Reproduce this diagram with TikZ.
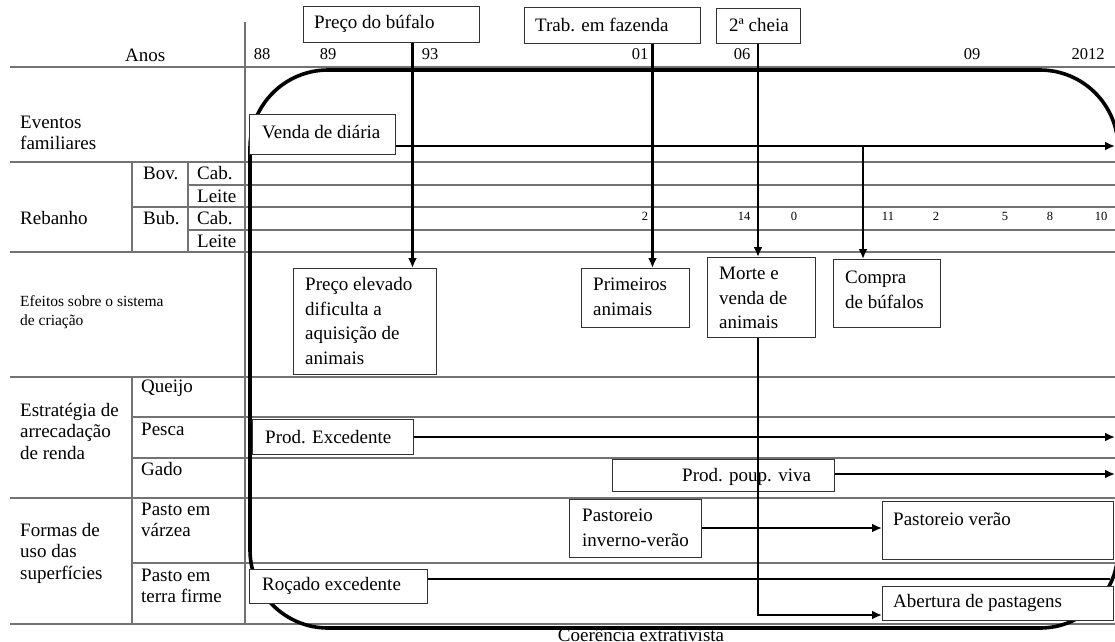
\documentclass[tikz,border=0pt]{standalone}
\usepackage{fontspec}
\setmainfont{Liberation Serif}
\usetikzlibrary{arrows.meta,calc}
\newcommand\fbig{\fontsize{19}{24.5}\selectfont}
\newcommand\fmid{\fontsize{19}{21.5}\selectfont}
\newcommand\fsml{\fontsize{15.5}{19.5}\selectfont}
\newcommand\fyr{\fontsize{16.5}{20}\selectfont}
\newcommand\fnum{\fontsize{12.5}{15}\selectfont}
\begin{document}
\begin{tikzpicture}[x=1pt,y=-1pt,
  grid/.style={draw=black!55,line width=1.1pt},
  frame/.style={line width=3.6pt,rounded corners=78pt},
  flow/.style={line width=2.6pt,-{Latex[length=10pt,width=9pt]}},
  plain/.style={line width=2.6pt},
  box/.style={draw=black!80,line width=1.1pt,fill=white,inner sep=0pt,anchor=north west},
  txt/.style={inner sep=0pt,font=\fbig,align=left,anchor=west},
  lab/.style={inner sep=0pt,font=\fmid,align=left,anchor=west},
  yr/.style={inner sep=0pt,font=\fyr},
  num/.style={inner sep=0pt,font=\fnum}]
\useasboundingbox (0,0) rectangle (1115,641);

% ---- table grid
\draw[grid] (10,67) -- (1115,67);
\draw[grid] (10,162) -- (1115,162);
\draw[grid] (188,185) -- (1115,185);
\draw[grid] (132,207) -- (1115,207);
\draw[grid] (188,230) -- (1115,230);
\draw[grid] (10,252) -- (1115,252);
\draw[grid] (10,377) -- (1115,377);
\draw[grid] (132,417) -- (1115,417);
\draw[grid] (132,458) -- (1115,458);
\draw[grid] (10,498) -- (1115,498);
\draw[grid] (132,563) -- (1115,563);
\draw[grid] (10,624) -- (1115,624);
\draw[grid] (245,22) -- (245,624);
\draw[grid] (132,162) -- (132,252);
\draw[grid] (188,162) -- (188,252);
\draw[grid] (132,377) -- (132,624);

% ---- row and column headings
\node[lab] (anos) at (125,55) {Anos};
\node[lab] (lEv) at (20,133) {Eventos\\familiares};
\node[lab] (lReb) at (20,218) {Rebanho};
\node[lab,font=\fsml] (lEf) at (20,312) {Efeitos sobre o sistema\\de criação};
\node[lab] (lEst) at (20,431) {Estratégia de\\arrecadação\\de renda};
\node[lab] (lFor) at (20,553) {Formas de\\uso das\\superfícies};
\node[lab] (bov) at (143,173) {Bov.};
\node[lab] (bub) at (143,218) {Bub.};
\node[lab] (cab1) at (197,173) {Cab.};
\node[lab] (lei1) at (197,196) {Leite};
\node[lab] (cab2) at (197,218) {Cab.};
\node[lab] (lei2) at (197,241) {Leite};
\node[lab] (queijo) at (141,388) {Queijo};
\node[lab] (pesca) at (141,429) {Pesca};
\node[lab] (gado) at (141,469) {Gado};
\node[lab] (pvz) at (141,520) {Pasto em\\várzea};
\node[lab] (ptf) at (141,586) {Pasto em\\terra firme};

% ---- years
\node[yr] (y88) at (262,54) {88};
\node[yr] (y89) at (328,54) {89};
\node[yr] (y93) at (430,54) {93};
\node[yr] (y01) at (640,54) {01};
\node[yr] (y06) at (742,54) {06};
\node[yr] (y09) at (972,54) {09};
\node[yr] (y12) at (1088,54) {2012};

% ---- buffalo head counts
\node[num] (n1) at (645,216) {2};
\node[num] (n2) at (744,216) {14};
\node[num] (n3) at (794,216) {0};
\node[num] (n4) at (888,216) {11};
\node[num] (n5) at (936,216) {2};
\node[num] (n6) at (1005,216) {5};
\node[num] (n7) at (1050,216) {8};
\node[num] (n8) at (1101,216) {10};

% ---- extractivist coherence frame
\draw[frame] (250,70) rectangle (1118,628);
\node[anchor=base,inner sep=0pt,font=\fbig] (coer) at (641,641) {Coerência extrativista};

% ---- event boxes
\node[box,minimum width=176pt,minimum height=36pt] (preco) at (303,6) {};
\node[box,minimum width=176pt,minimum height=36pt] (trab) at (524,7) {};
\node[box,minimum width=84pt,minimum height=35pt] (cheia) at (716,8) {};
\coordinate (xP) at (412.5,0);
\coordinate (xT) at (652.5,0);
\coordinate (xC) at (758,0);
\coordinate (xB) at (863,0);
\coordinate (vEnd) at (1115,146);
\coordinate (rEnd) at (1110,579);
\coordinate (yA) at (0,615);

% connectors under the boxes
\draw[flow] (preco.south -| xP) -- (xP |- 268,268);
\draw[flow] (trab.south -| xT) -- (xT |- 268,268);
\draw[flow] (cheia.south -| xC) -- (xC |- 257,257);
\draw[flow] (249,146) -- (vEnd);
\draw[flow] (xB |- vEnd) -- (xB |- 259,259);
\draw[flow] (413,437) -- (1115,437);
\draw[flow] (834,474) -- (1115,474);
\draw[flow] (701,528) -- (882,528);
\draw[plain] (427,579) -- (rEnd);

\node[box,minimum width=146pt,minimum height=40pt] (venda) at (249,114) {};
\node[box,minimum width=143pt,minimum height=106pt] (precoel) at (293,268) {};
\node[box,minimum width=108pt,minimum height=59pt] (prim) at (581,268) {};
\node[box,minimum width=108pt,minimum height=80pt] (morte) at (707,257) {};
\node[box,minimum width=107pt,minimum height=68pt] (compra) at (833,259) {};
\node[box,minimum width=161pt,minimum height=35pt] (prodexc) at (252,419) {};
\node[box,minimum width=222pt,minimum height=32pt] (poup) at (612,459) {};
\node[box,minimum width=132pt,minimum height=58pt] (pinv) at (569,499) {};
\node[box,minimum width=231pt,minimum height=58pt] (pver) at (882,501) {};
\node[box,minimum width=178pt,minimum height=34pt] (rocado) at (249,569) {};
\node[box,minimum width=231pt,minimum height=34pt] (abert) at (882,586) {};

% box texts
\node[txt] (tPreco) at (314,24) {Preço do búfalo};
\node[txt] (tTrab) at (535,25) {Trab. em fazenda};
\node[txt] (tCheia) at (729,25) {2ª cheia};
\node[txt] (tVenda) at (262,132) {Venda de diária};
\node[txt] (tPrecoel) at (305,321) {Preço elevado\\dificulta a\\aquisição de\\animais};
\node[txt] (tPrim) at (593,297) {Primeiros\\animais};
\node[txt] (tMorte) at (719,298) {Morte e\\venda de\\animais};
\node[txt] (tCompra) at (845,290) {Compra\\de búfalos};
\node[txt] (tProdexc) at (265,437) {Prod. Excedente};
\node[txt] (tPoup) at (682,477) {Prod. poup. viva};
\node[txt] (tPinv) at (582,528) {Pastoreio\\inverno-verão};
\node[txt] (tPver) at (893,519) {Pastoreio verão};
\node[txt] (tRocado) at (262,586) {Roçado excedente};
\node[txt] (tAbert) at (893,603) {Abertura de pastagens};

% death and sale of animals leads to opening of pastures
\draw[flow] (morte.south -| xC) |- (abert.west |- yA);
\end{tikzpicture}
\end{document}
